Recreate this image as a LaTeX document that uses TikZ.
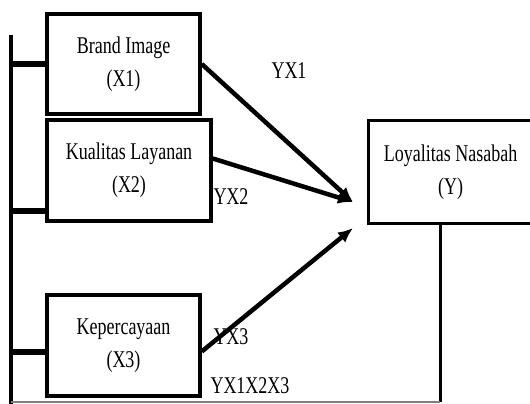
\documentclass[tikz,border=0pt]{standalone}
\usepackage{fontspec}
\setmainfont[FakeStretch=0.75]{Liberation Serif}
\usetikzlibrary{positioning,arrows.meta}
\begin{document}
\begin{tikzpicture}[x=1pt,y=-1pt,
    var/.style={draw,line width=3.5pt,align=center,inner sep=0pt,
        font=\fontsize{24}{33}\selectfont},
    lbl/.style={inner sep=0pt,font=\fontsize{24}{28}\selectfont},
    link/.style={line width=4.5pt,-{Latex[length=15pt,width=13pt]}}]
            \useasboundingbox (0,0) rectangle (530,404);
            \clip (0,0) rectangle (530,404);
            % variabel
            \node[var,minimum width=153pt,minimum height=100pt]
                (bi) at (123.5,64) {Brand Image\\(X1)};
            \node[var,minimum width=164pt,minimum height=101pt]
                (kl) at (129,170.5) {Kualitas Layanan\\(X2)};
            \node[var,minimum width=153pt,minimum height=101pt]
                (kp) at (123.5,345.5) {Kepercayaan\\(X3)};
            \node[var,line width=3pt,minimum width=164pt,minimum height=103pt]
                (ln) at (450.7,172) {Loyalitas Nasabah\\(Y)};
            \coordinate (bustop) at (11,35);
            \coordinate (busbot) at (11,404);
            \coordinate (yfoot) at (440,402);
            \coordinate (t12) at (353,202);
            \coordinate (t3) at (353,228);
            % garis kiri
            \draw[line width=4pt] (bustop)--(busbot);
            \draw[line width=6pt] (bi.west)--(bi.west -| bustop);
            \draw[line width=6pt] ([yshift=12pt]kl.south west)
                --([yshift=12pt]kl.south west -| bustop);
            \draw[line width=6pt] ([yshift=-6pt]kp.west)
                --([yshift=-6pt]kp.west -| bustop);
            % garis bawah
            \draw[line width=3pt] (ln.south -| yfoot)--(yfoot);
            \draw[line width=1.5pt,gray] (busbot |- yfoot)--(yfoot);
            % panah
            \draw[link] (bi.east)--(t12);
            \draw[link] ([yshift=12pt]kl.east)--(t12);
            \draw[link] ([yshift=-6pt]kp.east)--(t3);
            \node[lbl] (l1) at (289,71) {YX1};
            \node[lbl] (l2) at (231,197) {YX2};
            \node[lbl] (l3) at (231,337) {YX3};
            \node[lbl] (l4) at (250,386) {YX1X2X3};
\end{tikzpicture}
\end{document}
